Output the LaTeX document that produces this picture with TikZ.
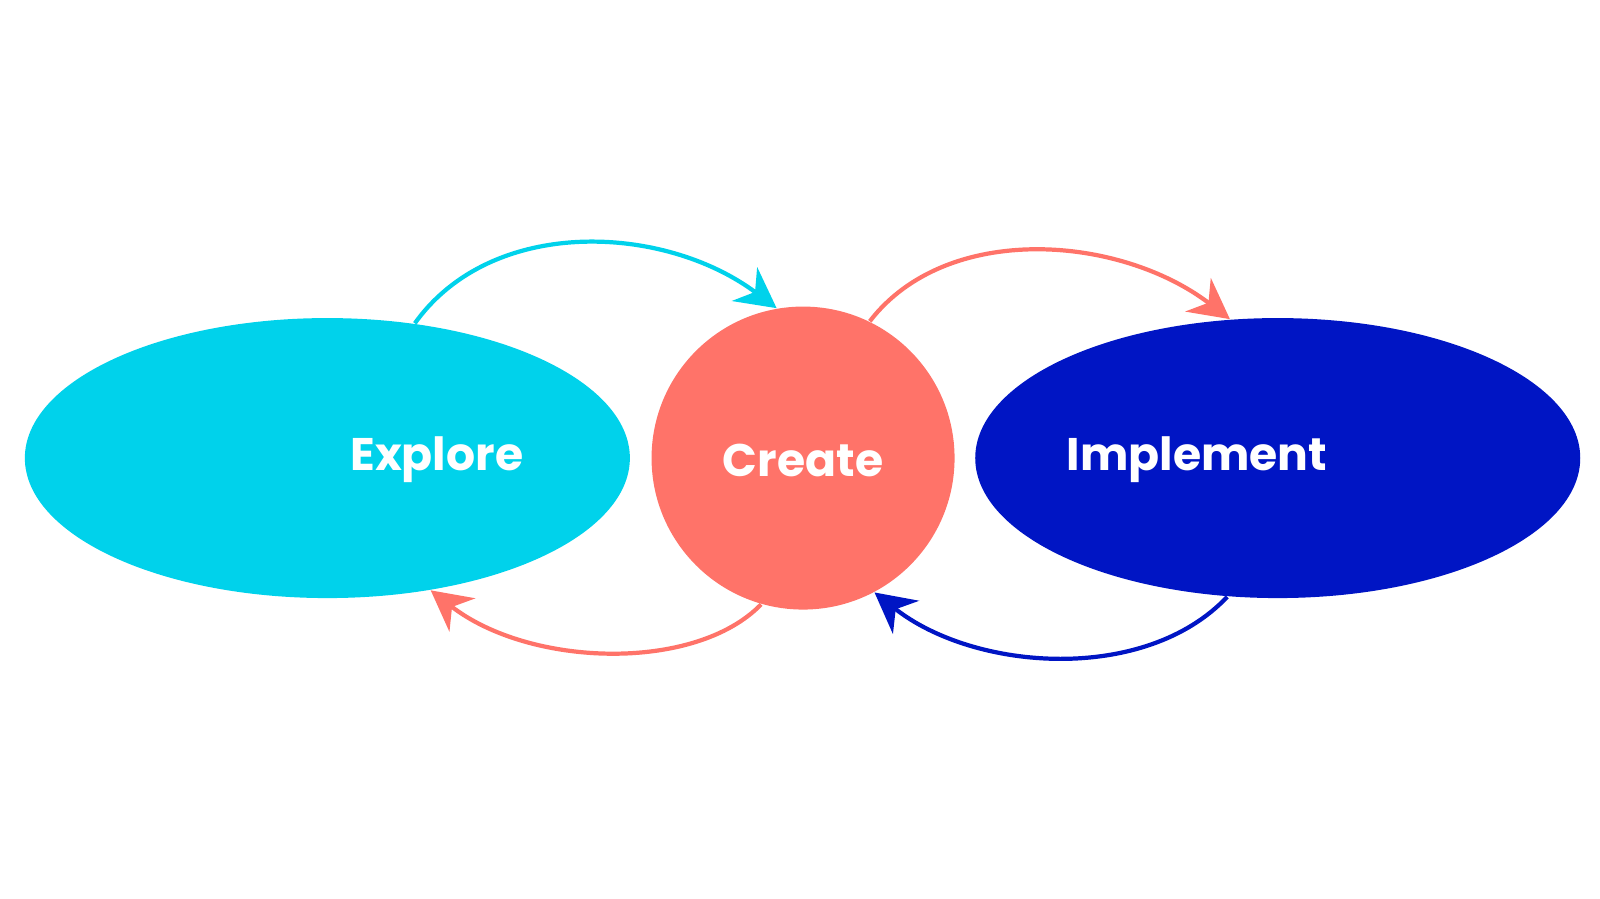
\documentclass[tikz,border=0pt]{standalone}
\usepackage{fontspec}
\newfontfamily\labelfont{Poppins}
\usetikzlibrary{arrows.meta,shapes.geometric}
\definecolor{cyanfill}{HTML}{00D2EB}
\definecolor{coralfill}{HTML}{FF7369}
\definecolor{bluefill}{HTML}{0015C4}

\begin{document}
\begin{tikzpicture}
    \tikzstyle{blob}=[shape=ellipse, minimum width=6.05cm, minimum height=2.80cm, inner sep=0pt]
    \tikzstyle{word}=[text=white, font=\labelfont\bfseries\fontsize{13}{15}\selectfont]
    \tikzstyle{cyclearrow}=[-{Stealth[length=4mm,width=4.2mm,inset=1.3mm]}, line width=1.2pt]

    \useasboundingbox (0,0) rectangle (16,8.99);

    \begin{scope}[scale=1.023, shift={(0,-0.21)}]
        \node[blob, fill=cyanfill](explore) at (3.20,4.52) {};
        \node[shape=circle, fill=coralfill, minimum size=3.03cm, inner sep=0pt](create) at (7.85,4.52) {};
        \node[blob, fill=bluefill](implement) at (12.49,4.52) {};

        \node[word](explore-text) at (4.27,4.50) {Explore};
        \node[word](create-text) at (7.85,4.50) {Create};
        \node[word](implement-text) at (11.70,4.50) {Implement};
    \end{scope}

    \draw[cyclearrow, cyanfill]
        (explore.57) .. controls +(0.77,1.08) and +(-1.12,0.84) .. (create.100);
    \draw[cyclearrow, coralfill]
        (create.64) .. controls +(0.77,1.0) and +(-1.1,0.84) .. (implement.109);
    \draw[cyclearrow, coralfill]
        (create.254) .. controls +(-0.66,-0.68) and +(0.99,-0.77) .. (explore.308);
    \draw[cyclearrow, bluefill]
        (implement.250) .. controls +(-0.82,-0.87) and +(1.0,-0.79) .. (create.298);
\end{tikzpicture}
\end{document}
